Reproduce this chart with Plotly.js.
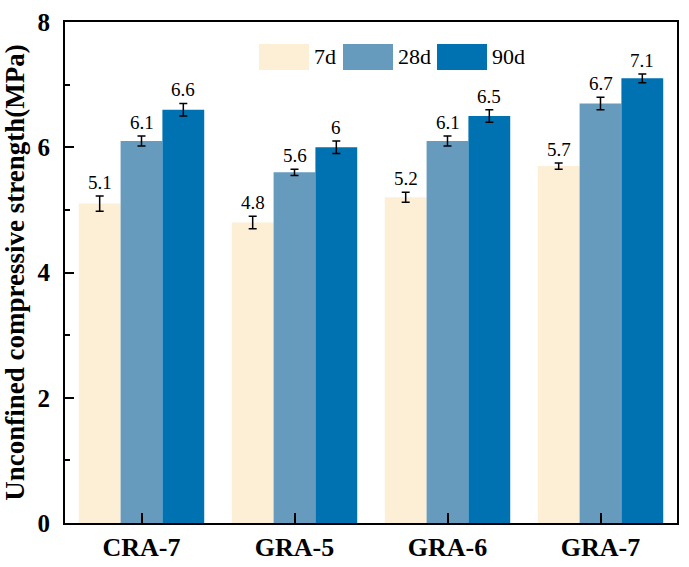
<!DOCTYPE html>
<html>
<head>
<meta charset="utf-8">
<script src="https://cdn.plot.ly/plotly-3.0.1.min.js"></script>
<style>html,body{margin:0;padding:0;background:#fff;}#chart{width:689px;height:567px;}</style>
</head>
<body>
<div id="chart"></div>
<script>
const categories = ["CRA-7", "GRA-5", "GRA-6", "GRA-7"];
const seriesNames = ["7d", "28d", "90d"];
const values7d = [5.1, 4.8, 5.2, 5.7];
const values28d = [6.1, 5.6, 6.1, 6.7];
const values90d = [6.6, 6.0, 6.5, 7.1];
const errors7d = [0.12, 0.10, 0.08, 0.05];
const errors28d = [0.08, 0.05, 0.08, 0.10];
const errors90d = [0.10, 0.10, 0.10, 0.07];
const labels7d = ["5.1", "4.8", "5.2", "5.7"];
const labels28d = ["6.1", "5.6", "6.1", "6.7"];
const labels90d = ["6.6", "6", "6.5", "7.1"];
const colors = ["#FCEFD6", "#679BBE", "#0071B1"];
const yTicks = [0, 2, 4, 6, 8];

const W = 689, H = 567;
const M = {l: 65, r: 12, t: 22, b: 44};
const plotW = W - M.l - M.r, plotH = H - M.t - M.b;
const bargap = 0.18;
const barW = plotW / categories.length * (1 - bargap) / seriesNames.length;

const vals = [values7d, values28d, values90d];
const errs = [errors7d, errors28d, errors90d];
const labs = [labels7d, labels28d, labels90d];
const font = "'Liberation Serif', 'Times New Roman', serif";

const traces = seriesNames.map((n, i) => ({
  type: 'bar', name: n, x: categories, y: vals[i],
  marker: {color: colors[i], line: {width: 0}},
  error_y: {type: 'data', array: errs[i], visible: true, color: '#000', thickness: 1.5, width: 4},
  showlegend: false
}));

const annotations = [];
seriesNames.forEach((n, i) => {
  categories.forEach((c, j) => {
    annotations.push({
      x: c, y: vals[i][j] + errs[i][j], xref: 'x', yref: 'y',
      text: labs[i][j], showarrow: false, yanchor: 'bottom',
      xshift: (i - 1) * barW, yshift: 1,
      font: {family: font, size: 19, color: '#000'}
    });
  });
});

// custom legend (pixel positions converted to plot-area fractions)
const px = x => (x - M.l) / plotW;
const py = y => (H - M.b - y) / plotH;
const legX = [259, 343, 437];
const shapes = [];
seriesNames.forEach((n, i) => {
  shapes.push({type: 'rect', xref: 'paper', yref: 'paper',
    x0: px(legX[i]), x1: px(legX[i] + 50), y0: py(70), y1: py(44),
    fillcolor: colors[i], line: {width: 0}});
  annotations.push({xref: 'paper', yref: 'paper', x: px(legX[i] + 53), y: py(57),
    xanchor: 'left', yanchor: 'middle', showarrow: false, text: n,
    font: {family: font, size: 22, color: '#000'}});
});

const layout = {
  width: W, height: H, margin: M,
  paper_bgcolor: '#fff', plot_bgcolor: '#fff',
  barmode: 'group', bargap: bargap, bargroupgap: 0,
  font: {family: font, color: '#000'},
  xaxis: {
    type: 'category', showline: true, linecolor: '#000', linewidth: 2, mirror: true,
    ticks: 'inside', ticklen: 10, tickwidth: 2, tickcolor: '#000',
    tickfont: {family: font, size: 26, color: '#000', weight: 'bold'},
    showgrid: false, zeroline: false
  },
  yaxis: {
    range: [0, 8], tickvals: yTicks, ticktext: yTicks.map(String),
    showline: true, linecolor: '#000', linewidth: 2, mirror: true,
    ticks: 'inside', ticklen: 9, tickwidth: 2, tickcolor: '#000',
    ticklabelstandoff: 8,
    minor: {dtick: 1, tick0: 1, ticks: 'inside', ticklen: 5, tickwidth: 2, tickcolor: '#000', showgrid: false},
    tickfont: {family: font, size: 25, color: '#000', weight: 'bold'},
    showgrid: false, zeroline: false,
    title: {text: 'Unconfined compressive strength(MPa)', standoff: 5,
      font: {family: font, size: 27, color: '#000', weight: 'bold'}}
  },
  shapes: shapes, annotations: annotations
};

Plotly.newPlot('chart', traces, layout, {displayModeBar: false, staticPlot: true});
</script>
</body>
</html>
